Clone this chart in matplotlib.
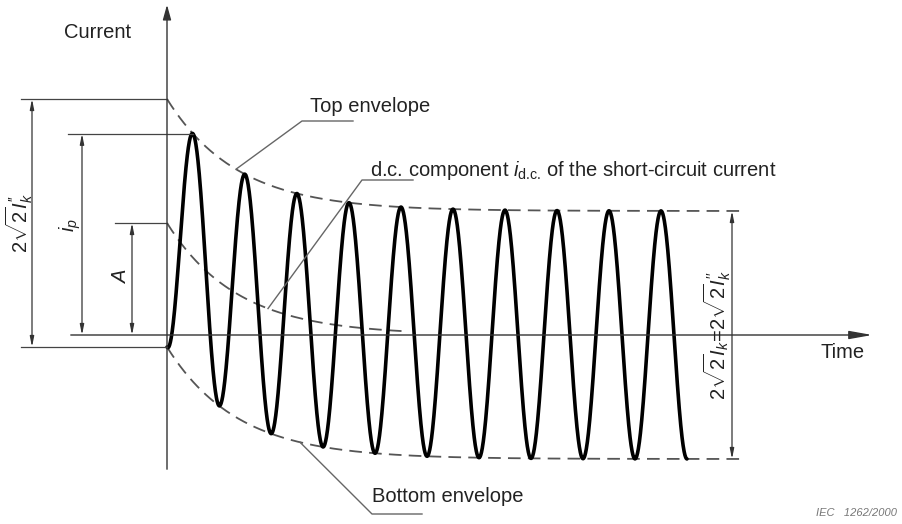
import numpy as np
import matplotlib
matplotlib.use('Agg')
import matplotlib.pyplot as plt

plt.rcParams['font.family'] = ['Liberation Sans', 'DejaVu Sans']
plt.rcParams['mathtext.fontset'] = 'custom'
plt.rcParams['mathtext.rm'] = 'Liberation Sans'
plt.rcParams['mathtext.it'] = 'Liberation Sans:italic'

# waveform parameters (diagram units)
period = 52          # one cycle
ac_amp = 124         # a.c. amplitude (sqrt2 * Ik)
dc_start = 112       # initial d.c. component A
tau = 70             # decay time constant of the d.c. component
n_cycles = 10
env_end = 578        # envelopes run out to here
dc_end = 240

labels = ['Top envelope', 'd.c. component $i_{\\text{d.c.}}$ of the short-circuit current',
          'Bottom envelope']

t = np.linspace(0, n_cycles * period, 2000)
dc = dc_start * np.exp(-t / tau)
current = -ac_amp * np.cos(2 * np.pi * t / period) + dc

te = np.linspace(0, env_end, 400)
top_env = dc_start * np.exp(-te / tau) + ac_amp
bot_env = dc_start * np.exp(-te / tau) - ac_amp
td = np.linspace(0, dc_end, 200)
dc_curve = dc_start * np.exp(-td / tau)

t_peak = period / 2
i_peak = ac_amp + dc_start * np.exp(-t_peak / tau)

fig = plt.figure(figsize=(9.02, 5.24), dpi=100)
ax = fig.add_axes([0, 0, 1, 1])
ax.set_xlim(-167, 735)
ax.set_ylim(-189, 335)
ax.axis('off')

grey = '#555555'
txt = '#222222'
# axes
ax.annotate('', xy=(0, 333), xytext=(0, -137),
            arrowprops=dict(arrowstyle='-|>,head_length=0.9,head_width=0.25', color='#333333', lw=1))
ax.annotate('', xy=(708, 0), xytext=(-99, 0),
            arrowprops=dict(arrowstyle='-|>,head_length=1.4,head_width=0.25', color='#333333', lw=1))

# envelopes and dc component
dash = dict(color=grey, lw=1.3, ls=(0, (7, 4)))
ax.plot(te, top_env, **dash)
ax.plot(te, bot_env, **dash)
ax.plot(td, dc_curve, **dash)

# current
ax.plot(t, current, color='black', lw=2.6, solid_capstyle='round')

# left extension lines
ext = dict(color='#444444', lw=0.9)
ax.plot([-146, 0], [dc_start + ac_amp] * 2, **ext)
ax.plot([-146, 0], [dc_start - ac_amp] * 2, **ext)
ax.plot([-99, t_peak], [i_peak] * 2, **ext)
ax.plot([-52, 0], [dc_start] * 2, **ext)

dim = dict(arrowstyle='<|-|>,head_length=0.6,head_width=0.12', color='#333333', lw=0.9,
           shrinkA=0, shrinkB=0)
ax.annotate('', xy=(-135, dc_start + ac_amp), xytext=(-135, dc_start - ac_amp), arrowprops=dim)
ax.annotate('', xy=(-85, i_peak), xytext=(-85, 0), arrowprops=dim)
ax.annotate('', xy=(-35, dc_start), xytext=(-35, 0), arrowprops=dim)
ax.annotate('', xy=(565, ac_amp), xytext=(565, -ac_amp), arrowprops=dim)

ax.text(-148, 112, r'$2\sqrt{2}I_k^{\prime\prime}$', rotation=90, ha='center', va='center',
        fontsize=14.5, color=txt)
ax.text(-97, 110, r'$i_p$', rotation=90, ha='center', va='center', fontsize=14.5, color=txt)
ax.text(-47, 59, r'$A$', rotation=90, ha='center', va='center', fontsize=14.5, color=txt)
ax.text(550, 0, r'$2\sqrt{2}I_k\!=\!2\sqrt{2}I_k^{\prime\prime}$', rotation=90, ha='center',
        va='center', fontsize=14.5, color=txt)

# leaders
lead = dict(color='#666666', lw=1)
ax.plot([186, 135, 69], [214, 214, dc_start * np.exp(-69 / tau) + ac_amp], **lead)
ax.plot([246, 195, 101], [155, 155, dc_start * np.exp(-101 / tau)], **lead)
ax.plot([255, 205, 133], [-179, -179, dc_start * np.exp(-133 / tau) - ac_amp], **lead)

ax.text(143, 229, labels[0], ha='left', va='center', fontsize=14.5, color=txt)
ax.text(203, 165, labels[1], ha='left', va='center', fontsize=14.5, color=txt)
ax.text(205, -162, labels[2], ha='left', va='center', fontsize=14.5, color=txt)
ax.text(-69, 302, 'Current', ha='center', va='center', fontsize=14.5, color=txt)
ax.text(676, -18, 'Time', ha='center', va='center', fontsize=14.5, color=txt)
ax.text(730, -178, 'IEC   1262/2000', ha='right', va='center', fontsize=8, style='italic',
        color='#777777')

fig.savefig('out.png', dpi=100)
